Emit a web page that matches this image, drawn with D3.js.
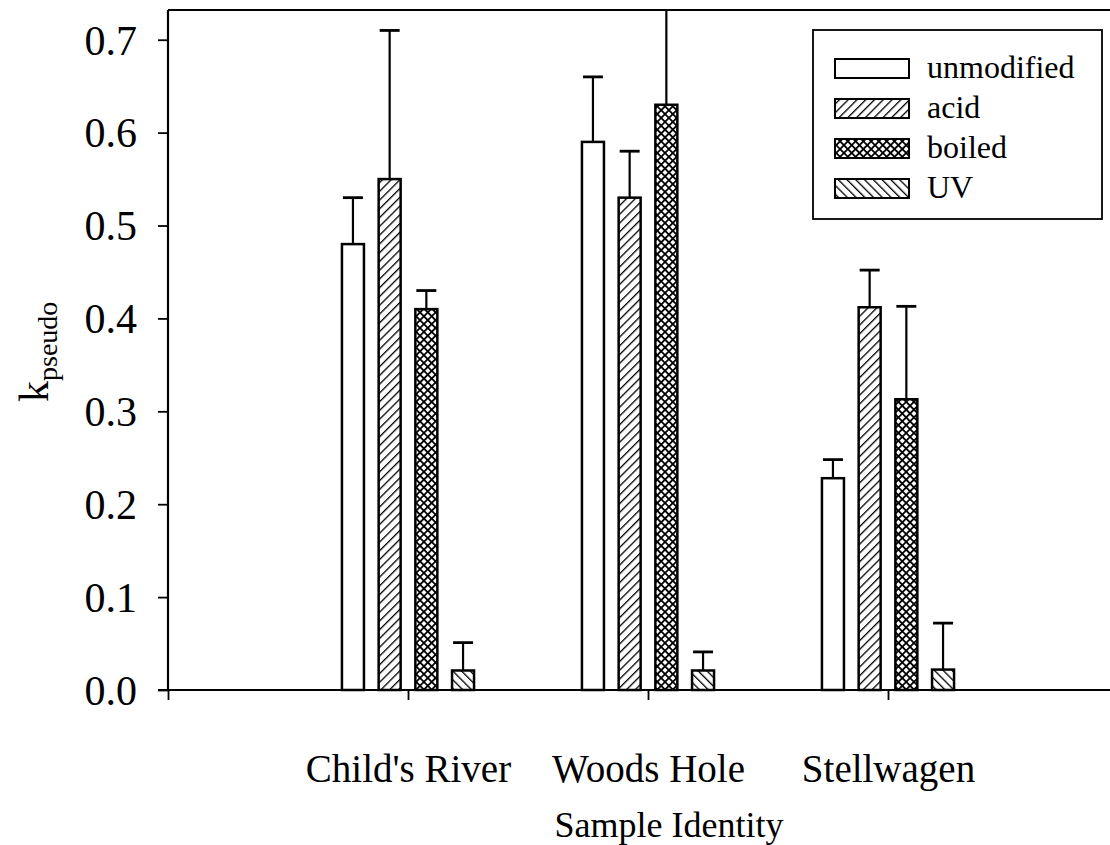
<!DOCTYPE html>
<html>
<head>
<meta charset="utf-8">
<script src="https://cdn.jsdelivr.net/npm/d3@7"></script>
<style>
  html, body { margin: 0; padding: 0; background: #fff; }
  svg { display: block; }
  text { font-family: "Liberation Serif", "DejaVu Serif", serif; fill: #000; }
</style>
</head>
<body>
<svg id="chart" width="1110" height="845"></svg>
<script>
// Sites and treatments
const categories = ["Child's River", "Woods Hole", "Stellwagen"];
const treatments = ["unmodified", "acid", "boiled", "UV"];

// Mean k_pseudo per treatment, one value per site
const unmodified = [0.48, 0.59, 0.228];
const acid       = [0.55, 0.53, 0.412];
const boiled     = [0.41, 0.63, 0.313];
const uv         = [0.021, 0.021, 0.022];

// Upper error bar lengths
const unmodifiedErr = [0.05, 0.07, 0.02];
const acidErr       = [0.16, 0.05, 0.04];
const boiledErr     = [0.02, 0.13, 0.10];
const uvErr         = [0.03, 0.02, 0.05];

const yTicks = [0, 0.1, 0.2, 0.3, 0.4, 0.5, 0.6, 0.7];

const seriesValues = [unmodified, acid, boiled, uv];
const seriesErrors = [unmodifiedErr, acidErr, boiledErr, uvErr];
const fills = ["#fff", "url(#hatchAcid)", "url(#hatchBoiled)", "url(#hatchUV)"];

const svg = d3.select("#chart");

// ---- hatch patterns ----
const defs = svg.append("defs");
function stripes(id, angle, size, sw) {
  const p = defs.append("pattern")
    .attr("id", id).attr("patternUnits", "userSpaceOnUse")
    .attr("width", size).attr("height", size)
    .attr("patternTransform", `rotate(${angle})`);
  p.append("rect").attr("width", size).attr("height", size).attr("fill", "#fff");
  p.append("line").attr("x1", 0).attr("y1", 0).attr("x2", 0).attr("y2", size)
    .attr("stroke", "#000").attr("stroke-width", sw);
}
stripes("hatchAcid", 45, 6.2, 2.6);
stripes("hatchUV", -45, 6.2, 2.6);
{
  const s = 5.5;
  const p = defs.append("pattern")
    .attr("id", "hatchBoiled").attr("patternUnits", "userSpaceOnUse")
    .attr("width", s).attr("height", s)
    .attr("patternTransform", "rotate(45)");
  p.append("rect").attr("width", s).attr("height", s).attr("fill", "#fff");
  p.append("line").attr("x1", 0).attr("y1", 0).attr("x2", 0).attr("y2", s)
    .attr("stroke", "#000").attr("stroke-width", 3.6);
  p.append("line").attr("x1", 0).attr("y1", 0).attr("x2", s).attr("y2", 0)
    .attr("stroke", "#000").attr("stroke-width", 3.6);
}

// ---- scales ----
const plotLeft = 168, plotTop = 10, plotBottom = 690;
const x = d3.scaleLinear().domain([0, 4]).range([plotLeft, plotLeft + 960]);
const y = d3.scaleLinear().domain([0, 0.732]).range([plotBottom, plotTop]);

defs.append("clipPath").attr("id", "plotClip")
  .append("rect").attr("x", plotLeft).attr("y", plotTop)
  .attr("width", 960).attr("height", plotBottom - plotTop + 10);

const barW = 22, pitch = 36.7;

// ---- bars and error bars ----
const plot = svg.append("g").attr("clip-path", "url(#plotClip)");
seriesValues.forEach((vals, si) => {
  vals.forEach((v, ci) => {
    const cx = x(ci + 1) + (si - 1.5) * pitch;
    const e = seriesErrors[si][ci];
    plot.append("line")
      .attr("x1", cx).attr("x2", cx)
      .attr("y1", y(v)).attr("y2", y(v + e))
      .attr("stroke", "#000").attr("stroke-width", 2.2);
    plot.append("line")
      .attr("x1", cx - 10).attr("x2", cx + 10)
      .attr("y1", y(v + e)).attr("y2", y(v + e))
      .attr("stroke", "#000").attr("stroke-width", 2.8);
    plot.append("rect")
      .attr("x", cx - barW / 2).attr("width", barW)
      .attr("y", y(v)).attr("height", y(0) - y(v))
      .attr("fill", fills[si]).attr("stroke", "#000").attr("stroke-width", 2.5);
  });
});

// ---- axes ----
const yAxis = d3.axisLeft(y).tickValues(yTicks).tickFormat(d3.format(".1f"))
  .tickSize(10).tickPadding(21);
const gy = svg.append("g").attr("transform", `translate(${plotLeft},0)`).call(yAxis);
gy.select(".domain").remove();
gy.selectAll(".tick line").attr("stroke", "#000").attr("stroke-width", 1.8);
gy.selectAll(".tick text").style("font-size", "42px").attr("font-family", null)
  .attr("dy", "0.34em");

const xAxis = d3.axisBottom(x).tickValues([0, 1, 2, 3])
  .tickFormat(d => d === 0 ? "" : categories[d - 1]).tickSize(10).tickPadding(54);
const gx = svg.append("g").attr("transform", `translate(0,${plotBottom})`).call(xAxis);
gx.select(".domain").remove();
gx.selectAll(".tick line").attr("stroke", "#000").attr("stroke-width", 1.8);
gx.selectAll(".tick text").style("font-size", "39px").attr("font-family", null);

// frame lines: left, top, baseline
svg.append("line").attr("x1", plotLeft).attr("x2", plotLeft).attr("y1", plotTop).attr("y2", plotBottom)
  .attr("stroke", "#000").attr("stroke-width", 2.2);
svg.append("line").attr("x1", plotLeft).attr("x2", x(4)).attr("y1", plotTop).attr("y2", plotTop)
  .attr("stroke", "#000").attr("stroke-width", 2.2);
svg.append("line").attr("x1", plotLeft - 10).attr("x2", x(4)).attr("y1", plotBottom).attr("y2", plotBottom)
  .attr("stroke", "#000").attr("stroke-width", 2.2);

// ---- axis titles ----
svg.append("text")
  .attr("x", 669).attr("y", 837)
  .attr("text-anchor", "middle").style("font-size", "36px")
  .text("Sample Identity");

const yt = svg.append("text")
  .attr("transform", "translate(48,402) rotate(-90)")
  .attr("text-anchor", "start");
yt.append("tspan").style("font-size", "42px").text("k");
yt.append("tspan").attr("dy", 9).style("font-size", "28px").text("pseudo");

// ---- legend ----
const lg = svg.append("g");
lg.append("rect").attr("x", 813).attr("y", 30).attr("width", 289).attr("height", 189)
  .attr("fill", "#fff").attr("stroke", "#000").attr("stroke-width", 1.8);
treatments.forEach((t, i) => {
  const ry = 59 + i * 40;
  lg.append("rect").attr("x", 835).attr("y", ry).attr("width", 74).attr("height", 19)
    .attr("fill", fills[i]).attr("stroke", "#000").attr("stroke-width", 2);
  lg.append("text").attr("x", 927).attr("y", ry + 19).style("font-size", "32px").text(t);
});
</script>
</body>
</html>
